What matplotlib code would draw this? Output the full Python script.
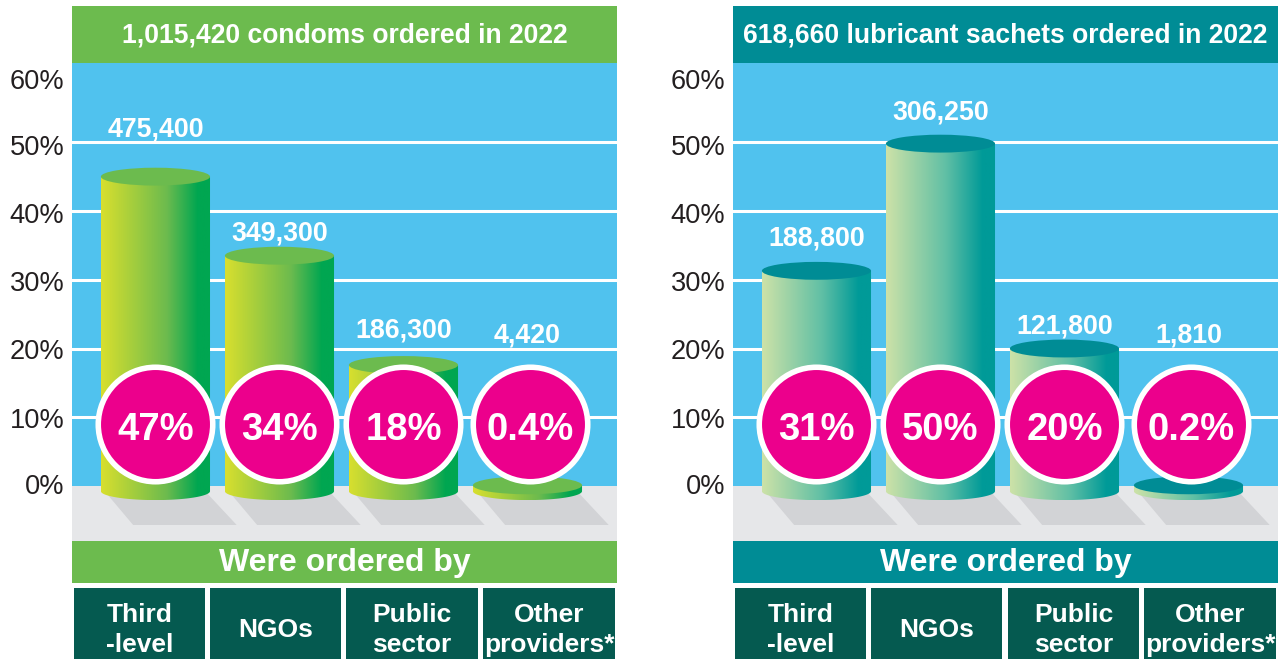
import numpy as np
import matplotlib
matplotlib.use("Agg")
import matplotlib.pyplot as plt
from matplotlib.colors import LinearSegmentedColormap
from matplotlib.patches import Ellipse, Polygon, Rectangle

# values
condom_title = "1,015,420 condoms ordered in 2022"
lube_title = "618,660 lubricant sachets ordered in 2022"
providers = ["Third\n-level", "NGOs", "Public\nsector", "Other\nproviders*"]
condom_heights = [45.0, 33.5, 17.6, 0.1]
lube_heights = [31.3, 49.8, 20.0, 0.1]
condom_counts = ["475,400", "349,300", "186,300", "4,420"]
lube_counts = ["188,800", "306,250", "121,800", "1,810"]
condom_pct = ["47%", "34%", "18%", "0.4%"]
lube_pct = ["31%", "50%", "20%", "0.2%"]
tick_labels = ["0%", "10%", "20%", "30%", "40%", "50%", "60%"]
grid_values = [10, 20, 30, 40, 50]

# layout (not data)
tick_pos = [0.3, 9.9, 19.9, 29.8, 39.7, 49.6, 59.15]
condom_label_y = [51.85, 36.75, 22.55, 21.85]
lube_label_y = [36.05, 54.4, 23.15, 21.95]
BAR_W = 0.88
CAP = 1.3
BASE = -0.75

BLUE = "#50c2ee"
FLOOR = "#e6e7e9"
SHADOW = "#d2d3d6"
GREEN = "#6cbb4e"
TEAL = "#008c95"
DARK = "#055a50"
PINK = "#ec008c"
FONT = "Liberation Sans"

fig = plt.figure(figsize=(12.82, 6.59), dpi=100, facecolor="white")

# helper axes in pixels for the banners and the provider boxes
deco = fig.add_axes([0, 0, 1, 1])
deco.set_xlim(0, 1282)
deco.set_ylim(659, 0)
deco.axis("off")


def cylinder(ax, x, top, cmap, cap_color):
    hw = BAR_W / 2
    t = np.linspace(0, np.pi, 60)
    xs = x + hw * np.cos(t)
    ys = BASE - CAP * np.sin(t)
    outline = [(x - hw, top)] + [(x + hw, top)] + list(zip(xs, ys))
    body = Polygon(outline, closed=True, fc="none", ec="none", zorder=3)
    ax.add_patch(body)
    grad = np.linspace(0, 1, 256).reshape(1, -1)
    im = ax.imshow(grad, cmap=cmap, extent=(x - hw, x + hw, BASE - CAP, top),
                   aspect="auto", zorder=3)
    im.set_clip_path(body)
    ax.add_patch(Ellipse((x, top), BAR_W, 2 * CAP, fc=cap_color, ec="none", zorder=4))


def panel(left, title, head_color, heights, counts, pct, label_y, grad_colors, box_x):
    ax = fig.add_axes([left / 1282, (659 - 541) / 659, 545 / 1282, (541 - 63) / 659])
    ax.set_facecolor(BLUE)
    cmap = LinearSegmentedColormap.from_list("bar", grad_colors)
    ax.axhspan(-8, 0, color=FLOOR, lw=0, zorder=1)
    ax.hlines(grid_values, -1, 4, color="white", lw=2.2, zorder=2)

    for i, h in enumerate(heights):
        ax.add_patch(Polygon([(i - 0.41, BASE), (i - 0.18, -5.67), (i + 0.655, -5.67), (i + 0.40, BASE)],
                             closed=True, fc=SHADOW, ec="none", zorder=2))
        cylinder(ax, i, h, cmap, head_color)
        ax.text(i, label_y[i], counts[i], color="white", fontsize=19.3, fontweight="bold",
                family=FONT, ha="center", va="center", zorder=6)
        cx = i + (0.02 if i == 3 else 0)
        ax.scatter([cx], [9.0], s=6795, c=PINK, edgecolors="white", linewidths=4, zorder=7)
        ax.text(cx, 8.2, pct[i], color="white", fontsize=27.5, fontweight="bold",
                family=FONT, ha="center", va="center", zorder=8)

    ax.set_xlim(-0.673, 3.722)
    ax.set_ylim(-8, 61.53)
    ax.set_xticks([])
    ax.set_yticks(tick_pos)
    ax.set_yticklabels(tick_labels, family=FONT, fontsize=19.6, color="#231f20")
    ax.tick_params(axis="y", length=0, pad=5.5)
    for s in ax.spines.values():
        s.set_visible(False)

    # banners
    deco.add_patch(Rectangle((left, 6), 545, 57, fc=head_color, ec="none"))
    deco.text(left + 272.5, 35.5, title, color="white", fontsize=19.1, fontweight="bold",
              family=FONT, ha="center", va="center")
    deco.add_patch(Rectangle((left, 541), 545, 42, fc=head_color, ec="none"))
    deco.text(left + 272.5, 563, "Were ordered by", color="white", fontsize=23, fontweight="bold",
              family=FONT, ha="center", va="center")

    # provider boxes
    for (x0, x1), name in zip(box_x, providers):
        deco.add_patch(Rectangle((x0, 588), x1 - x0, 71, fc=DARK, ec="none"))
        deco.text((x0 + x1) / 2, 630, name, color="white", fontsize=19, fontweight="bold",
                  family=FONT, ha="center", va="center", linespacing=1.32)


panel(72, condom_title, GREEN, condom_heights, condom_counts, condom_pct, condom_label_y,
      [(0, "#d8df2e"), (0.6, "#6cbb4e"), (0.88, "#00a651"), (1, "#00a651")],
      [(74, 205), (210, 341), (346, 478), (483, 615)])
panel(733, lube_title, TEAL, lube_heights, lube_counts, lube_pct, lube_label_y,
      [(0, "#cde2a8"), (0.55, "#5fbfa5"), (0.88, "#009a98"), (1, "#009a98")],
      [(735, 866), (871, 1002), (1008, 1139), (1144, 1276)])

fig.savefig("out.png", dpi=100)
